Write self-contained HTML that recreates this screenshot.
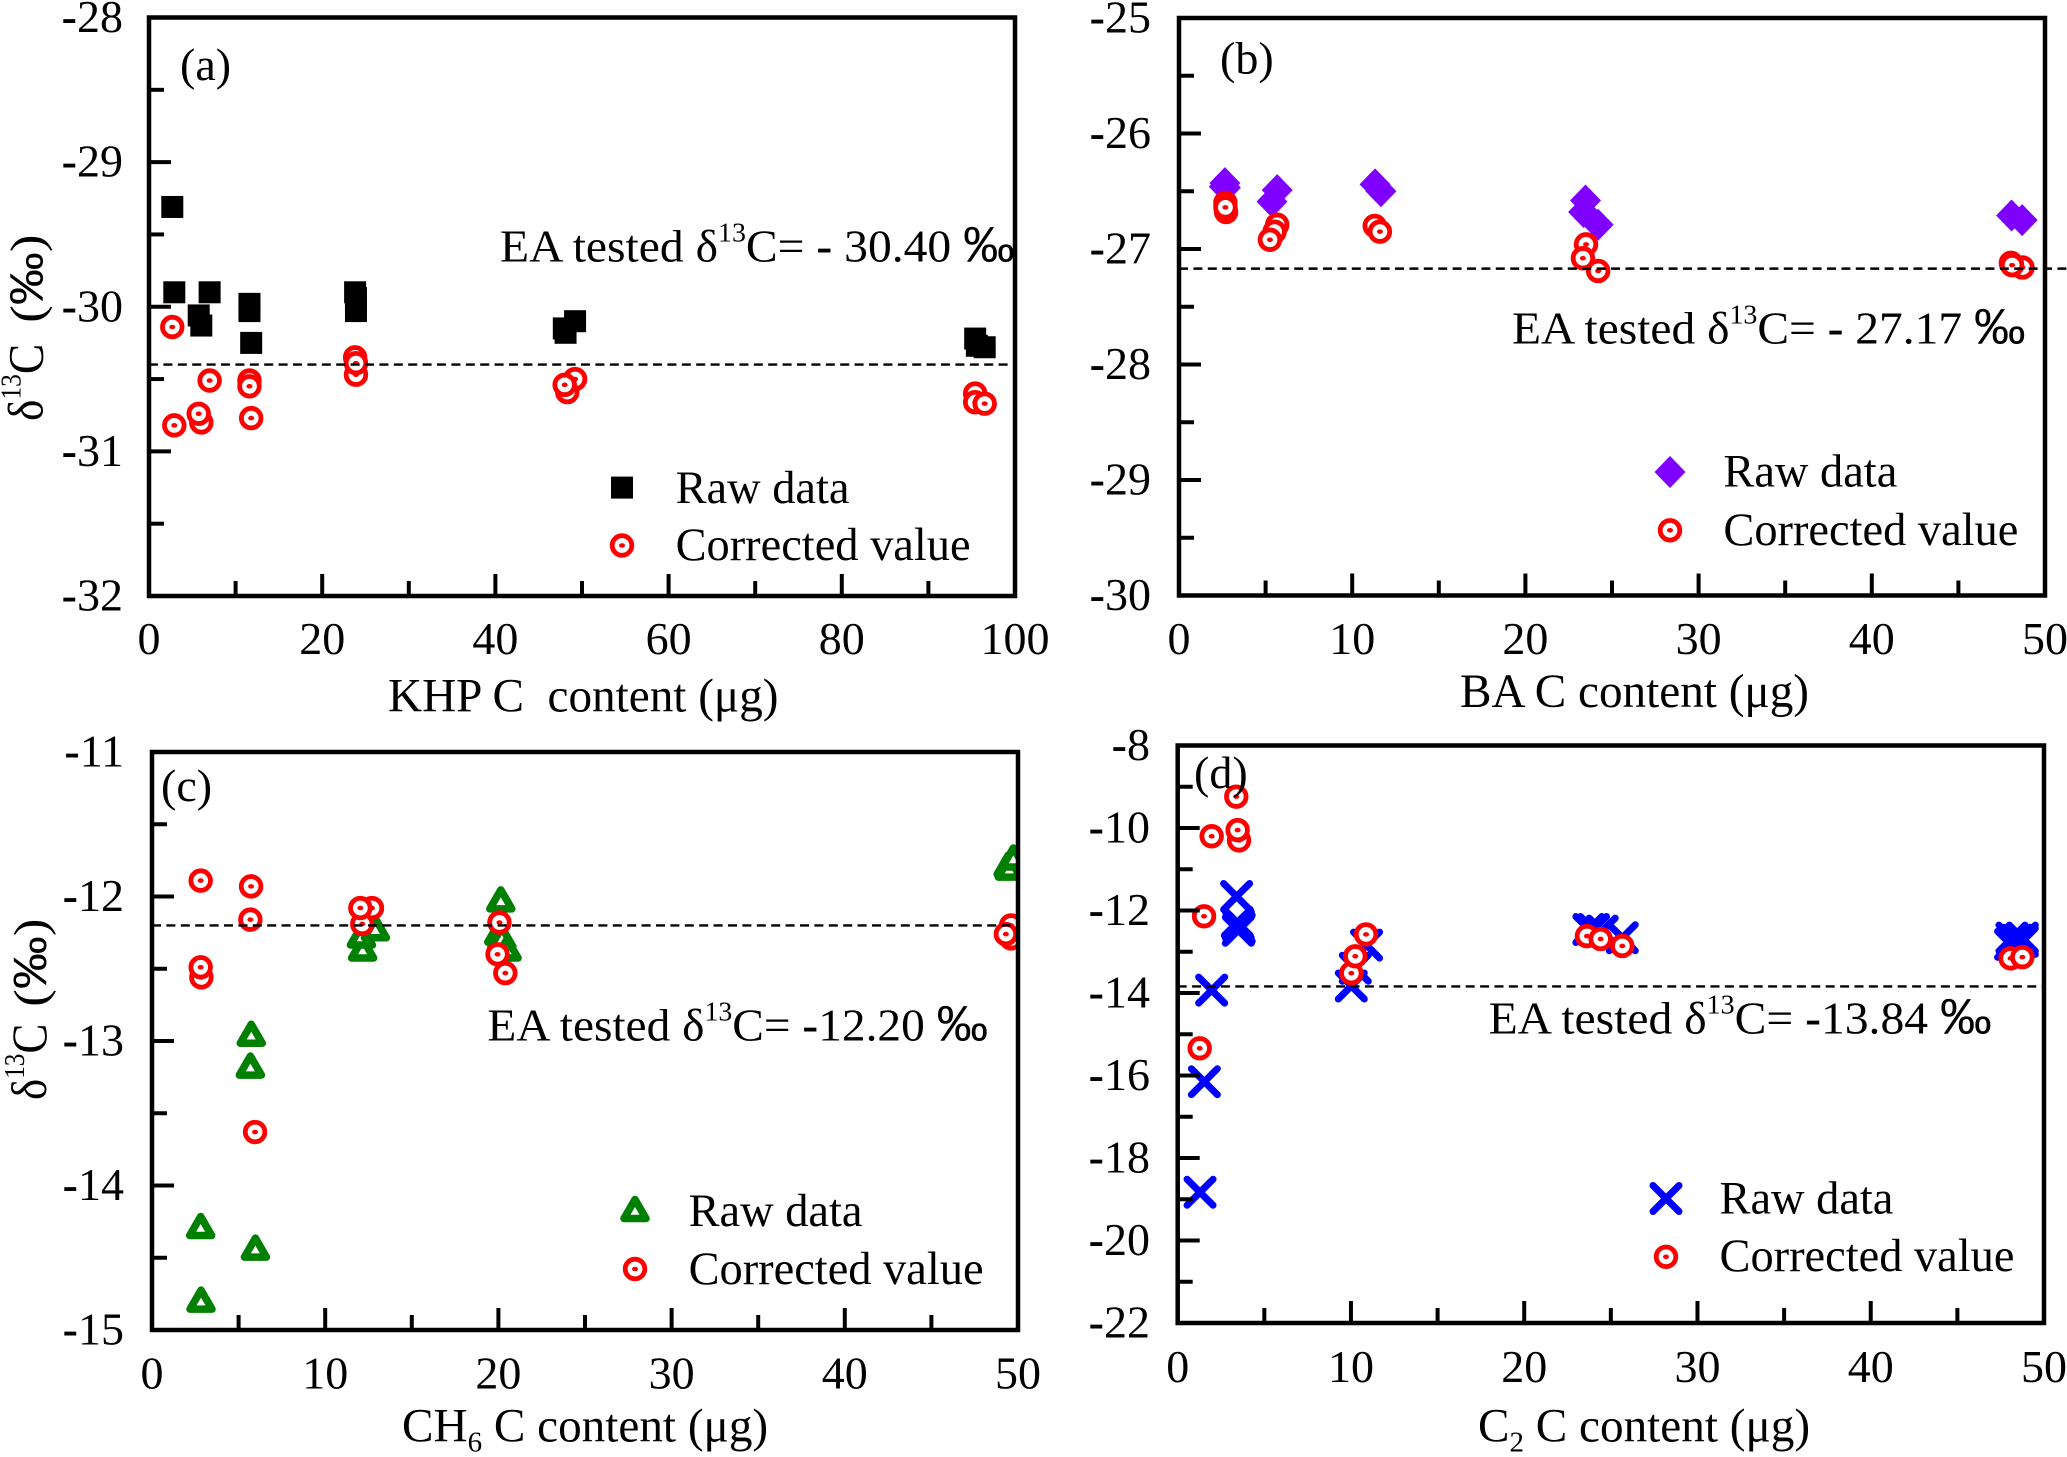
<!DOCTYPE html>
<html>
<head>
<meta charset="utf-8">
<title>Carbon isotope measurements</title>
<style>
html,body{margin:0;padding:0;background:#fff;}
svg{display:block;}
text{font-family:"Liberation Serif","Noto Serif CJK SC",serif;fill:#000;white-space:pre;}
.tick{font-size:46px;}
.lbl{font-size:46px;}
.leg{font-size:46.4px;}
.xt{font-size:47.2px;}
.pm{font-family:"Liberation Sans",sans-serif;}
</style>
</head>
<body>
<svg id="chart" xmlns="http://www.w3.org/2000/svg" width="2067" height="1457" viewBox="0 0 2067 1457">
  <rect x="0" y="0" width="2067" height="1457" fill="#fff"/>
  <defs>
    <clipPath id="clip-a"><rect x="149" y="17.5" width="866" height="578.5"/></clipPath>
    <clipPath id="clip-b"><rect x="1179" y="18" width="866" height="577.5"/></clipPath>
    <clipPath id="clip-c"><rect x="152" y="752" width="866" height="578"/></clipPath>
    <clipPath id="clip-d"><rect x="1177.7" y="745.5" width="866.3" height="577.5"/></clipPath>
  </defs>
  <g id="layer-marks"></g>

  <text class="lbl" x="180" y="80">(a)</text>
  <text class="lbl" x="1220" y="73.5">(b)</text>
  <text class="lbl" x="161" y="801">(c)</text>
  <text class="lbl" x="1194" y="788">(d)</text>

  <text class="lbl" transform="translate(500 261.7) scale(1.0345 1)">EA tested δ<tspan font-size="27" dy="-20">13</tspan><tspan dy="20">C= </tspan><tspan font-weight="bold">-</tspan> 30.40 <tspan class="pm" font-size="50">‰</tspan></text>
  <text class="lbl" transform="translate(1512 343.4) scale(1.032 1)">EA tested δ<tspan font-size="27" dy="-20">13</tspan><tspan dy="20">C= </tspan><tspan font-weight="bold">-</tspan> 27.17 <tspan class="pm" font-size="50">‰</tspan></text>
  <text class="lbl" transform="translate(487.4 1040.6) scale(1.03 1)">EA tested δ<tspan font-size="27" dy="-20">13</tspan><tspan dy="20">C= </tspan><tspan font-weight="bold">-</tspan>12.20 <tspan class="pm" font-size="50">‰</tspan></text>
  <text class="lbl" transform="translate(1488.6 1033.5) scale(1.035 1)">EA tested δ<tspan font-size="27" dy="-20">13</tspan><tspan dy="20">C= </tspan><tspan font-weight="bold">-</tspan>13.84 <tspan class="pm" font-size="50">‰</tspan></text>

  <text class="leg" x="675.6" y="502.8">Raw data</text>
  <text class="leg" x="675.6" y="560">Corrected value</text>
  <text class="leg" x="1723.4" y="486.7">Raw data</text>
  <text class="leg" x="1723.4" y="545">Corrected value</text>
  <text class="leg" x="688.6" y="1226">Raw data</text>
  <text class="leg" x="688.6" y="1284">Corrected value</text>
  <text class="leg" x="1719.5" y="1213.4">Raw data</text>
  <text class="leg" x="1719.5" y="1271">Corrected value</text>

  <text class="xt" x="388" y="711.7">KHP C  content (μg)</text>
  <text class="xt" x="1460" y="707">BA C content (μg)</text>
  <text class="xt" x="402" y="1441.5">CH<tspan font-size="29" dy="10">6</tspan><tspan dy="-10"> C content (μg)</tspan></text>
  <text class="xt" x="1478" y="1441.5">C<tspan font-size="29" dy="10">2</tspan><tspan dy="-10"> C content (μg)</tspan></text>

  <text font-size="50" transform="translate(42.5 421) rotate(-90) scale(0.91 1)">δ<tspan font-size="28" dy="-22">13</tspan><tspan dy="22">C</tspan></text>
  <text font-size="47" transform="translate(42.5 322.7) rotate(-90) scale(1.127 1)">(<tspan class="pm">‰</tspan>)</text>
  <text font-size="50" transform="translate(46 1100) rotate(-90) scale(0.9 1)">δ<tspan font-size="28" dy="-22">13</tspan><tspan dy="22">C</tspan></text>
  <text font-size="47" transform="translate(46 1006.7) rotate(-90) scale(1.127 1)">(<tspan class="pm">‰</tspan>)</text>
</svg>

<script>
// Panel (a) KHP
const aXDomain = [0, 100];
const aYDomain = [-28, -32];
const aXTicks = [0, 20, 40, 60, 80, 100];
const aXMinor = [10, 30, 50, 70, 90];
const aYTicks = [-28, -29, -30, -31, -32];
const aYMinor = [-28.5, -29.5, -30.5, -31.5];
const aReference = -30.40;
const aRawX = [2.69, 2.92, 7.0, 5.74, 6.04, 11.6, 11.6, 11.8, 23.8, 23.9, 23.9, 47.9, 48.1, 49.2, 95.4, 95.6, 96.5];
const aRawY = [-29.31, -29.90, -29.90, -30.06, -30.13, -29.98, -30.03, -30.25, -29.90, -29.94, -30.03, -30.15, -30.18, -30.10, -30.22, -30.27, -30.28];
const aCorX = [2.69, 2.92, 7.0, 6.04, 5.74, 11.6, 11.6, 11.8, 23.9, 23.8, 23.9, 49.2, 48.3, 48.0, 95.4, 95.4, 96.5];
const aCorY = [-30.14, -30.82, -30.51, -30.80, -30.74, -30.51, -30.55, -30.77, -30.47, -30.35, -30.39, -30.50, -30.59, -30.54, -30.60, -30.66, -30.67];

// Panel (b) BA
const bXDomain = [0, 50];
const bYDomain = [-25, -30];
const bXTicks = [0, 10, 20, 30, 40, 50];
const bXMinor = [5, 15, 25, 35, 45];
const bYTicks = [-25, -26, -27, -28, -29, -30];
const bYMinor = [-25.5, -26.5, -27.5, -28.5, -29.5];
const bReference = -27.17;
const bRawX = [2.65, 2.68, 2.62, 5.37, 5.67, 11.32, 11.66, 23.47, 23.36, 24.2, 48.07, 48.68];
const bRawY = [-26.43, -26.47, -26.46, -26.59, -26.49, -26.44, -26.50, -26.58, -26.68, -26.79, -26.71, -26.75];
const bCorX = [2.68, 2.72, 2.68, 5.67, 5.52, 5.25, 11.3, 11.6, 23.5, 23.32, 24.2, 48.7, 48.03, 48.1];
const bCorY = [-26.60, -26.68, -26.64, -26.79, -26.85, -26.92, -26.80, -26.85, -26.96, -27.08, -27.19, -27.16, -27.12, -27.14];

// Panel (c) CH6
const cXDomain = [0, 50];
const cYDomain = [-11, -15];
const cXTicks = [0, 10, 20, 30, 40, 50];
const cXMinor = [5, 15, 25, 35, 45];
const cYTicks = [-11, -12, -13, -14, -15];
const cYMinor = [-11.5, -12.5, -13.5, -14.5];
const cReference = -12.20;
const cRawX = [2.81, 2.83, 5.73, 5.68, 5.97, 12.16, 12.09, 12.9, 20.14, 20.02, 20.2, 20.5, 49.43, 49.5, 49.73];
const cRawY = [-14.28, -14.79, -12.95, -13.17, -14.43, -12.36, -12.27, -12.22, -12.02, -12.25, -12.28, -12.36, -11.78, -11.80, -11.73];
const cCorX = [2.81, 2.85, 2.81, 5.72, 5.68, 5.95, 12.7, 12.14, 12.03, 19.95, 20.06, 20.4, 49.6, 49.6, 49.3];
const cCorY = [-11.89, -12.56, -12.49, -11.93, -12.16, -13.63, -12.08, -12.19, -12.08, -12.40, -12.18, -12.53, -12.20, -12.29, -12.26];

// Panel (d) C2
const dXDomain = [0, 50];
const dYDomain = [-8, -22];
const dXTicks = [0, 10, 20, 30, 40, 50];
const dXMinor = [5, 15, 25, 35, 45];
const dYTicks = [-8, -10, -12, -14, -16, -18, -20, -22];
const dYMinor = [-9, -11, -13, -15, -17, -19, -21];
const dReference = -13.84;
const dRawX = [1.29, 1.54, 1.96, 3.40, 3.44, 3.50, 3.55, 3.50, 10.02, 10.25, 10.9, 23.73, 24.0, 24.5, 25.66, 48.15, 48.75, 48.45, 48.07, 48.75];
const dRawY = [-18.83, -16.15, -13.93, -11.66, -12.29, -12.35, -12.43, -12.48, -13.83, -13.40, -12.84, -12.46, -12.46, -12.50, -12.66, -12.67, -12.67, -12.72, -12.82, -12.75];
const dCorX = [3.38, 3.54, 3.46, 1.96, 1.52, 1.27, 10.87, 10.02, 10.25, 23.62, 24.41, 25.66, 48.07, 48.75];
const dCorY = [-9.24, -10.30, -10.05, -10.20, -12.14, -15.34, -12.58, -13.52, -13.11, -12.62, -12.69, -12.86, -13.16, -13.13];

const svgNS = 'http://www.w3.org/2000/svg';
const root = document.getElementById('layer-marks');

function make(tag, attrs, parent) {
  const el = document.createElementNS(svgNS, tag);
  for (const k in attrs) el.setAttribute(k, attrs[k]);
  parent.appendChild(el);
  return el;
}

function drawRawMarker(kind, px, py, parent) {
  let el;
  if (kind === 'square') {
    el = make('rect', { x: px - 11, y: py - 11, width: 22, height: 22, fill: '#000' }, parent);
  } else if (kind === 'diamond') {
    const p = [px, py - 16, px + 15.5, py, px, py + 16, px - 15.5, py].join(' ');
    el = make('polygon', { points: p, fill: '#7f00ff' }, parent);
  } else if (kind === 'triangle') {
    const p = [px, py - 9.5, px + 11, py + 9.5, px - 11, py + 9.5].join(' ');
    el = make('polygon', { points: p, fill: '#fff', stroke: '#008000', 'stroke-width': 7.5, 'stroke-linejoin': 'round' }, parent);
  } else {
    const d = 'M' + (px - 13) + ' ' + (py - 13) + 'L' + (px + 13) + ' ' + (py + 13) +
              'M' + (px + 13) + ' ' + (py - 13) + 'L' + (px - 13) + ' ' + (py + 13);
    el = make('path', { d: d, fill: 'none', stroke: '#0000ff', 'stroke-width': 7, 'stroke-linecap': 'round' }, parent);
  }
  
  
  return el;
}

function drawCorrectedMarker(px, py, parent) {
  const g = make('g', {}, parent);
  
  
  make('circle', { cx: px, cy: py, r: 9.8, fill: '#fff', stroke: '#ff0000', 'stroke-width': 4.8 }, g);
  make('ellipse', { cx: px, cy: py, rx: 3, ry: 2.3, fill: '#ff0000' }, g);
  return g;
}

function drawPanel(p) {
  const xScale = v => p.left + (v - p.xDomain[0]) / (p.xDomain[1] - p.xDomain[0]) * (p.right - p.left);
  const yScale = v => p.top + (v - p.yDomain[0]) / (p.yDomain[1] - p.yDomain[0]) * (p.bottom - p.top);

  const group = make('g', {}, root);
  
  

  const clipped = make('g', { 'clip-path': 'url(#clip-' + p.id + ')' }, group);
  p.rawX.forEach((x, i) => drawRawMarker(p.kind, xScale(x), yScale(p.rawY[i]), clipped));
  p.corX.forEach((x, i) => drawCorrectedMarker(xScale(x), yScale(p.corY[i]), clipped));

  const refLine = make('line', {
    x1: p.left, x2: p.refEnd || p.right,
    y1: yScale(p.reference), y2: yScale(p.reference),
    stroke: '#000', 'stroke-width': 2.4, 'stroke-dasharray': '9 5.4'
  }, group);
  
  

  p.yMinor.forEach(v => {
    const t = make('line', { x1: p.left, x2: p.left + 15, y1: yScale(v), y2: yScale(v), stroke: '#000', 'stroke-width': 4 }, group);
    
    
  });
  p.xMinor.forEach(v => {
    const t = make('line', { x1: xScale(v), x2: xScale(v), y1: p.bottom, y2: p.bottom - 15, stroke: '#000', 'stroke-width': 4 }, group);
    
    
  });
  p.yTicks.forEach(v => {
    const t = make('line', { x1: p.left, x2: p.left + 22, y1: yScale(v), y2: yScale(v), stroke: '#000', 'stroke-width': 4 }, group);
    
    
    const label = make('text', { class: 'tick', x: p.yLabelX, y: yScale(v) + 14.5, 'text-anchor': 'end' }, group);
    
    
    const minus = make('tspan', { 'font-weight': 'bold' }, label);
    minus.textContent = '-';
    const digits = make('tspan', {}, label);
    digits.textContent = String(Math.abs(v));
  });
  p.xTicks.forEach(v => {
    const t = make('line', { x1: xScale(v), x2: xScale(v), y1: p.bottom, y2: p.bottom - 22, stroke: '#000', 'stroke-width': 4 }, group);
    
    
    const label = make('text', { class: 'tick', x: xScale(v), y: p.xLabelY, 'text-anchor': 'middle' }, group);
    
    
    label.textContent = String(v);
  });

  const frame = make('rect', {
    x: p.left, y: p.top, width: p.right - p.left, height: p.bottom - p.top,
    fill: 'none', stroke: '#000', 'stroke-width': 4.5
  }, group);
  
  

  drawRawMarker(p.kind, p.legendX, p.legendRawY, group);
  drawCorrectedMarker(p.legendX, p.legendCorY, group);
}

drawPanel({
  id: 'a', kind: 'square', left: 149, right: 1015, top: 17.5, bottom: 596,
  xDomain: aXDomain, yDomain: aYDomain, xTicks: aXTicks, xMinor: aXMinor, yTicks: aYTicks, yMinor: aYMinor,
  reference: aReference, rawX: aRawX, rawY: aRawY, corX: aCorX, corY: aCorY,
  yLabelX: 123, xLabelY: 654, legendX: 622, legendRawY: 487.6, legendCorY: 545.5
});
drawPanel({
  id: 'b', kind: 'diamond', left: 1179, right: 2045, top: 18, bottom: 595.5,
  xDomain: bXDomain, yDomain: bYDomain, xTicks: bXTicks, xMinor: bXMinor, yTicks: bYTicks, yMinor: bYMinor,
  reference: bReference, rawX: bRawX, rawY: bRawY, corX: bCorX, corY: bCorY, refEnd: 2067,
  yLabelX: 1151, xLabelY: 654, legendX: 1670, legendRawY: 472, legendCorY: 530.3
});
drawPanel({
  id: 'c', kind: 'triangle', left: 152, right: 1018, top: 752, bottom: 1330,
  xDomain: cXDomain, yDomain: cYDomain, xTicks: cXTicks, xMinor: cXMinor, yTicks: cYTicks, yMinor: cYMinor,
  reference: cReference, rawX: cRawX, rawY: cRawY, corX: cCorX, corY: cCorY,
  yLabelX: 124, xLabelY: 1388.4, legendX: 635, legendRawY: 1209, legendCorY: 1269
});
drawPanel({
  id: 'd', kind: 'cross', left: 1177.7, right: 2044, top: 745.5, bottom: 1323,
  xDomain: dXDomain, yDomain: dYDomain, xTicks: dXTicks, xMinor: dXMinor, yTicks: dYTicks, yMinor: dYMinor,
  reference: dReference, rawX: dRawX, rawY: dRawY, corX: dCorX, corY: dCorY,
  yLabelX: 1150, xLabelY: 1381.8, legendX: 1666, legendRawY: 1198.5, legendCorY: 1256.8
});
</script>
</body>
</html>
